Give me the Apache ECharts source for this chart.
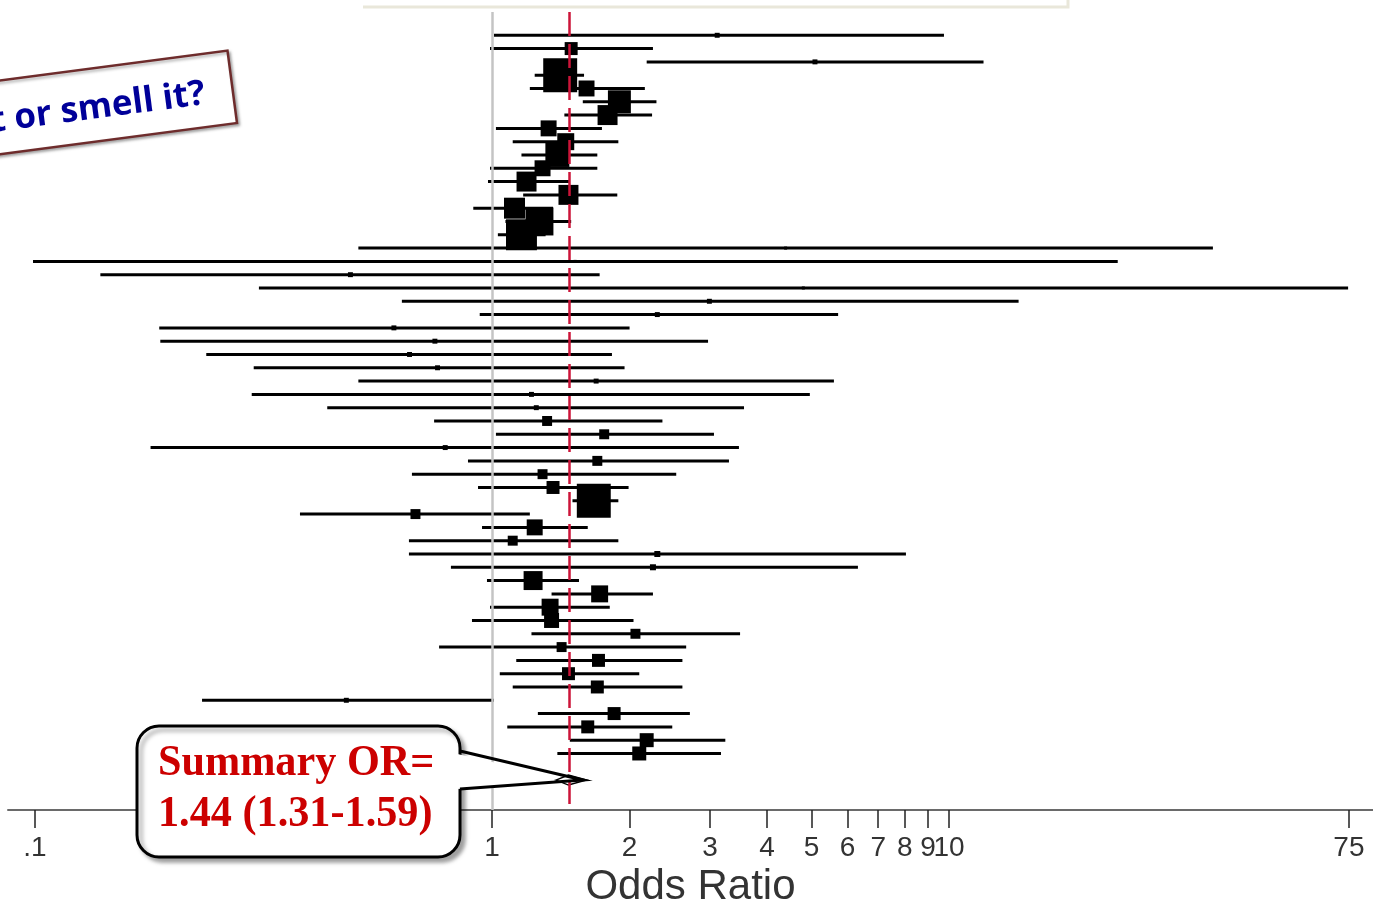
<!DOCTYPE html>
<html>
<head>
<meta charset="utf-8">
<title>Odds Ratio forest plot</title>
<script src="https://cdn.jsdelivr.net/npm/echarts@6.0.0/dist/echarts.min.js"></script>
<style>
  html, body { margin: 0; padding: 0; background: #fff; }
  #chart { width: 1373px; height: 908px; }
</style>
</head>
<body>
<div id="chart"></div>
<script>
// one value per study, top row first
const studyOR = [3.11, 1.49, 5.09, 1.41, 1.61, 1.90, 1.79, 1.33, 1.45, 1.39, 1.29, 1.19, 1.47, 1.12, 1.27, 1.16,
  4.39, 1.52, 0.49, 4.80, 2.99, 2.30, 0.61, 0.75, 0.66, 0.76, 1.69, 1.22, 1.25, 1.32, 1.76, 0.79, 1.70, 1.29,
  1.36, 1.67, 0.68, 1.24, 1.11, 2.30, 2.25, 1.23, 1.72, 1.34, 1.35, 2.06, 1.42, 1.71, 1.47, 1.70, 0.48, 1.85,
  1.62, 2.18, 2.10]
const ciLow = [1.01, 0.99, 2.18, 1.24, 1.21, 1.58, 1.44, 1.02, 1.11, 1.16, 0.99, 0.98, 1.17, 0.91, 1.07, 1.03,
  0.51, 0.099, 0.139, 0.309, 0.635, 0.94, 0.187, 0.188, 0.237, 0.301, 0.51, 0.298, 0.436, 0.747, 1.02, 0.179,
  0.886, 0.668, 0.932, 1.50, 0.38, 0.951, 0.658, 0.658, 0.813, 0.975, 1.35, 0.99, 0.904, 1.22, 0.766, 1.13,
  1.04, 1.11, 0.232, 1.26, 1.08, 1.48, 1.39]
const ciHigh = [9.75, 2.25, 11.9, 1.59, 2.16, 2.29, 2.24, 1.74, 1.89, 1.70, 1.70, 1.48, 1.88, 1.36, 1.49, 1.31,
  37.8, 23.4, 1.72, 74.7, 14.2, 5.72, 2.00, 2.97, 1.83, 1.95, 5.60, 4.96, 3.56, 2.36, 3.06, 3.47, 3.30, 2.53,
  1.99, 1.89, 1.21, 1.62, 1.89, 8.05, 6.32, 1.55, 2.25, 1.81, 2.04, 3.49, 2.66, 2.61, 2.10, 2.61, 1.01, 2.71,
  2.48, 3.24, 3.17]
// study weights (%), box area follows weight
const studyWeight = [0.17, 1.17, 0.17, 8.0, 1.77, 3.66, 2.77, 1.77, 2.0, 3.99, 1.77, 2.77, 2.77, 3.05, 5.43, 6.65,
  0.06, 0.06, 0.17, 0.06, 0.17, 0.17, 0.17, 0.17, 0.17, 0.17, 0.17, 0.17, 0.17, 0.69, 0.69, 0.17, 0.69, 0.69,
  1.17, 8.0, 0.69, 1.77, 0.69, 0.25, 0.25, 2.50, 2.0, 2.0, 1.56, 0.69, 0.69, 1.17, 1.17, 1.17, 0.17, 1.17,
  1.17, 1.36, 1.36]
// pooled estimate as drawn: [OR, low, high]
const summaryOR = [1.47, 1.38, 1.61]
const tickValues = [0.1, 1, 2, 3, 4, 5, 6, 7, 8, 9, 10, 75]
const tickLabels = ['.1', '1', '2', '3', '4', '5', '6', '7', '8', '9', '10', '75']

const summaryRow = studyOR.length + 1
const tickPos = tickValues.map(v => Math.log10(v))

const ciData = studyOR.map((v, i) => [Math.log10(ciLow[i]), Math.log10(ciHigh[i]), i])
const boxData = studyOR.map((v, i) => [Math.log10(v), i, studyWeight[i]])
const diamondData = [[Math.log10(summaryOR[1]), Math.log10(summaryOR[0]), Math.log10(summaryOR[2]), summaryRow]]

const redText = 'bold 44px "Liberation Serif", "Times New Roman", serif'

let mychart = echarts.init(document.getElementById('chart'))

mychart.setOption({
  animation: false,
  grid: {
    top: 12,
    bottom: 98,
    left: 8,
    right: 0,
    outerBoundsMode: 'none',
    containLabel: false,
  },
  xAxis: {
    type: 'value',
    position: 'bottom',
    min: -1.0591,
    max: 1.9278,
    splitLine: { show: false },
    axisLine: { onZero: false, lineStyle: { color: '#6a6a6a', width: 2 } },
    axisTick: {
      customValues: tickPos,
      length: 18,
      lineStyle: { color: '#222', width: 1.5 },
    },
    axisLabel: {
      customValues: tickPos,
      margin: 24,
      fontSize: 28,
      color: '#333',
      fontFamily: '"Liberation Sans Narrow", "Liberation Sans", Arial, sans-serif',
      formatter: (val) => {
        let best = 0
        tickPos.forEach((p, k) => {
          if (Math.abs(p - val) < Math.abs(tickPos[best] - val)) best = k
        })
        return tickLabels[best]
      },
    },
    name: 'Odds Ratio',
    nameLocation: 'middle',
    nameGap: 56,
    nameTextStyle: {
      fontSize: 42,
      color: '#333',
      fontFamily: '"Liberation Sans", Arial, sans-serif',
    },
  },
  yAxis: {
    type: 'value',
    min: -1.75,
    max: 58.25,
    inverse: true,
    show: false,
  },
  series: [
    {
      // reference lines: no effect and pooled OR
      type: 'line',
      data: [],
      z: 1,
      markLine: {
        silent: true,
        symbol: ['none', 'none'],
        label: { show: false },
        data: [
          { xAxis: 0, lineStyle: { color: '#c4c4c4', width: 2.5, type: 'solid' } },
          { xAxis: Math.log10(summaryOR[0]), lineStyle: { color: '#cc1439', width: 2.5, type: [24, 8] } },
        ],
      },
    },
    {
      type: 'custom',
      z: 2,
      data: ciData,
      encode: { x: [0, 1], y: 2 },
      renderItem: (params, api) => {
        let a = api.coord([api.value(0), api.value(2)])
        let b = api.coord([api.value(1), api.value(2)])
        return {
          type: 'line',
          shape: { x1: a[0], y1: a[1], x2: b[0], y2: b[1] },
          style: { stroke: '#000', lineWidth: 3 },
        }
      },
    },
    {
      type: 'scatter',
      z: 3,
      data: boxData,
      symbol: 'rect',
      symbolSize: (val) => Math.max(3, 12 * Math.sqrt(val[2])),
      itemStyle: { color: '#000', opacity: 1 },
    },
    {
      type: 'custom',
      z: 3,
      data: diamondData,
      encode: { x: [0, 1, 2], y: 3 },
      renderItem: (params, api) => {
        let l = api.coord([api.value(0), api.value(3)])
        let c = api.coord([api.value(1), api.value(3)])
        let r = api.coord([api.value(2), api.value(3)])
        return {
          type: 'polygon',
          shape: { points: [[l[0], l[1]], [c[0], c[1] - 5], [r[0], r[1]], [c[0], c[1] + 5]] },
          style: { fill: '#fff', stroke: '#000', lineWidth: 1.5 },
        }
      },
    },
  ],
  graphic: [
    {
      // edge of the slide box at the top
      type: 'polyline',
      z: 50,
      shape: { points: [[363, 7], [1068, 7], [1068, -2]] },
      style: { stroke: '#e9e7da', lineWidth: 3, fill: null },
    },
    {
      type: 'group',
      x: 237,
      y: 123,
      rotation: 7.5 * Math.PI / 180,
      children: [
        {
          type: 'rect',
          z: 100,
          shape: { x: -340, y: -73, width: 340, height: 73 },
          style: {
            fill: '#fff', stroke: '#6e2c2c', lineWidth: 2.5,
            shadowBlur: 3, shadowOffsetX: 2, shadowOffsetY: 2, shadowColor: 'rgba(0,0,0,0.3)',
          },
        },
        {
          type: 'text',
          z: 101,
          style: {
            text: 't or smell it?',
            x: -28,
            y: -33,
            font: 'bold 35px "Open Sans", "Noto Sans", sans-serif',
            fill: '#000099',
            textAlign: 'right',
            align: 'right',
            textVerticalAlign: 'middle',
            verticalAlign: 'middle',
          },
        },
      ],
    },
    {
      type: 'rect',
      z: 100,
      shape: { x: 137, y: 726, width: 323, height: 131, r: 22 },
      style: {
        fill: '#fff', stroke: '#000', lineWidth: 3,
        shadowBlur: 4, shadowOffsetX: 4, shadowOffsetY: 4, shadowColor: 'rgba(0,0,0,0.35)',
      },
    },
    {
      // white wedge that opens the box border where the pointer starts
      type: 'polygon',
      z: 101,
      shape: { points: [[440, 750], [540, 773], [540, 784], [440, 790]] },
      style: { fill: '#fff', stroke: null },
    },
    {
      type: 'polyline',
      z: 102,
      shape: { points: [[460, 751], [583, 780], [460, 789]] },
      style: { stroke: '#000', lineWidth: 3, fill: null },
    },
    {
      type: 'text',
      z: 103,
      x: 158,
      scaleX: 0.96,
      style: {
        text: 'Summary OR=',
        x: 0, y: 764,
        font: redText,
        fill: '#cc0000',
        textVerticalAlign: 'middle',
        verticalAlign: 'middle',
      },
    },
    {
      type: 'text',
      z: 103,
      x: 158,
      scaleX: 0.96,
      style: {
        text: '1.44 (1.31-1.59)',
        x: 0, y: 815,
        font: redText,
        fill: '#cc0000',
        textVerticalAlign: 'middle',
        verticalAlign: 'middle',
      },
    },
  ],
})
</script>
</body>
</html>
